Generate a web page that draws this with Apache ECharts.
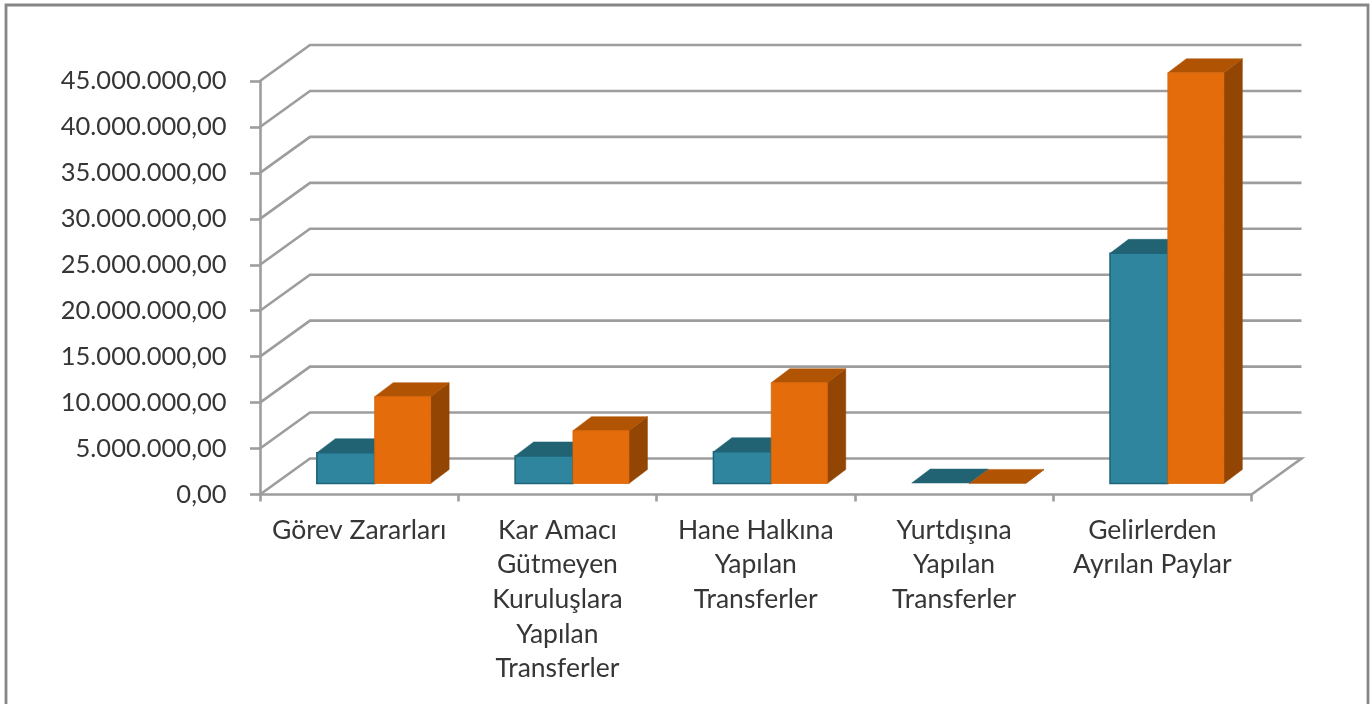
<!DOCTYPE html>
<html><head><meta charset="utf-8">
<style>html,body{margin:0;padding:0;background:#fff;overflow:hidden}#c{width:1372px;height:704px;filter:blur(0.45px)}</style>
<script src="https://cdn.jsdelivr.net/npm/echarts@6/dist/echarts.min.js"></script>
</head><body><div id="c"></div>
<script>
const categories = ['Görev Zararları','Kar Amacı\nGütmeyen\nKuruluşlara\nYapılan\nTransferler','Hane Halkına\nYapılan\nTransferler','Yurtdışına\nYapılan\nTransferler','Gelirlerden\nAyrılan Paylar'];
const seriesTeal = [3350000, 3000000, 3460000, 50000, 25050000];
const seriesOrange = [9450000, 5750000, 10970000, 10000, 44700000];
const tickValues = [0,5000000,10000000,15000000,20000000,25000000,30000000,35000000,40000000,45000000];

const WALL_DX = 50, WALL_DY = -36;      // wall depth on screen
const BAR_DX = 15.5, BAR_DY = -11;      // front plane of bars within the depth
const SIDE_DX = 18.5, SIDE_DY = -14;    // depth of each bar
const TEAL_FRACTION = 57.8 / 198.3, ORANGE_FRACTION = 56 / 198.3;
const LINE = '#9d9d9d';

const fmt = v => v.toFixed(2).replace('.', ',').replace(/\B(?=(\d{3})+(?!\d))/g, '.');
const poly = (pts, fill) => ({type:'polygon', shape:{points:pts}, style:{fill, stroke:fill, lineWidth:0.5}});

function barRenderer(side, fraction, c) {
  return function (params, api) {
    const i = api.value(0), v = api.value(1);
    const top = api.coord([i, v]), base = api.coord([i, 0]);
    const w = api.size([1, 0])[0] * fraction;
    const xc = top[0] + BAR_DX;
    const x0 = side < 0 ? xc - w : xc, x1 = x0 + w;
    const yT = top[1] + BAR_DY, yB = base[1] + BAR_DY;
    const children = [];
    children.push(poly([[x1,yB],[x1+SIDE_DX,yB+SIDE_DY],[x1+SIDE_DX,yT+SIDE_DY],[x1,yT]], c.side));
    children.push(poly([[x0,yT],[x1,yT],[x1+SIDE_DX,yT+SIDE_DY],[x0+SIDE_DX,yT+SIDE_DY]], c.top));
    if (yB - yT > 1) children.push({type:'rect', shape:{x:x0,y:yT,width:w,height:yB-yT}, style:{fill:c.front, stroke:c.edge, lineWidth:c.lw}});
    return {type:'group', children};
  };
}

function gridRenderer(params, api) {
  const g = params.coordSys, v = api.value(1);
  const y = api.coord([0, v])[1];
  const pts = [[g.x, y],[g.x + WALL_DX, y + WALL_DY],[g.x + g.width + WALL_DX, y + WALL_DY]];
  if (v === 0) pts.push([g.x + g.width, y]);
  return {type:'polyline', shape:{points:pts}, style:{fill:null, stroke:LINE, lineWidth:2.6}};
}

const chart = echarts.init(document.getElementById('c'), null, {renderer:'canvas'});
chart.setOption({
  animation:false,
  backgroundColor:'#fff',
  graphic:[{type:'rect', silent:true, z:0, shape:{x:6,y:5,width:1362,height:740}, style:{fill:'none', stroke:'#868686', lineWidth:2.8}}],
  grid:{left:260, top:81, width:991.5, height:413.5, containLabel:false},
  xAxis:{type:'category', data:categories,
    axisLine:{lineStyle:{color:LINE, width:2.6}},
    axisTick:{show:true, length:7, lineStyle:{color:LINE, width:2.6}},
    axisLabel:{interval:0, color:'#363636', fontFamily:'Lato', fontSize:26.5, lineHeight:34.6, margin:18.5, verticalAlign:'top', hideOverlap:false}},
  yAxis:{type:'value', min:0, max:45000000, interval:5000000,
    splitLine:{show:false},
    axisLine:{show:true, lineStyle:{color:LINE, width:2.6}},
    axisTick:{show:true, length:10, lineStyle:{color:LINE, width:2.6}},
    axisLabel:{color:'#363636', fontFamily:'Lato', fontSize:25.5, margin:33.5, formatter:fmt}},
  series:[
    {type:'custom', name:'wall', z:1, renderItem:gridRenderer, encode:{x:0,y:1}, silent:true,
      data:tickValues.map(v=>[0,v])},
    {type:'custom', name:'Teal', z:2, renderItem:barRenderer(-1,TEAL_FRACTION,{front:'#2f859e',top:'#226373',side:'#1f5a6a',edge:'#1f6478',lw:1.6}), encode:{x:0,y:1},
      data:categories.map((c,i)=>[i,seriesTeal[i]])},
    {type:'custom', name:'Orange', z:3, renderItem:barRenderer(1,ORANGE_FRACTION,{front:'#e46c0a',top:'#b05404',side:'#934504',edge:'#d9660a',lw:0.8}), encode:{x:0,y:1},
      data:categories.map((c,i)=>[i,seriesOrange[i]])}
  ]
});
</script></body></html>
